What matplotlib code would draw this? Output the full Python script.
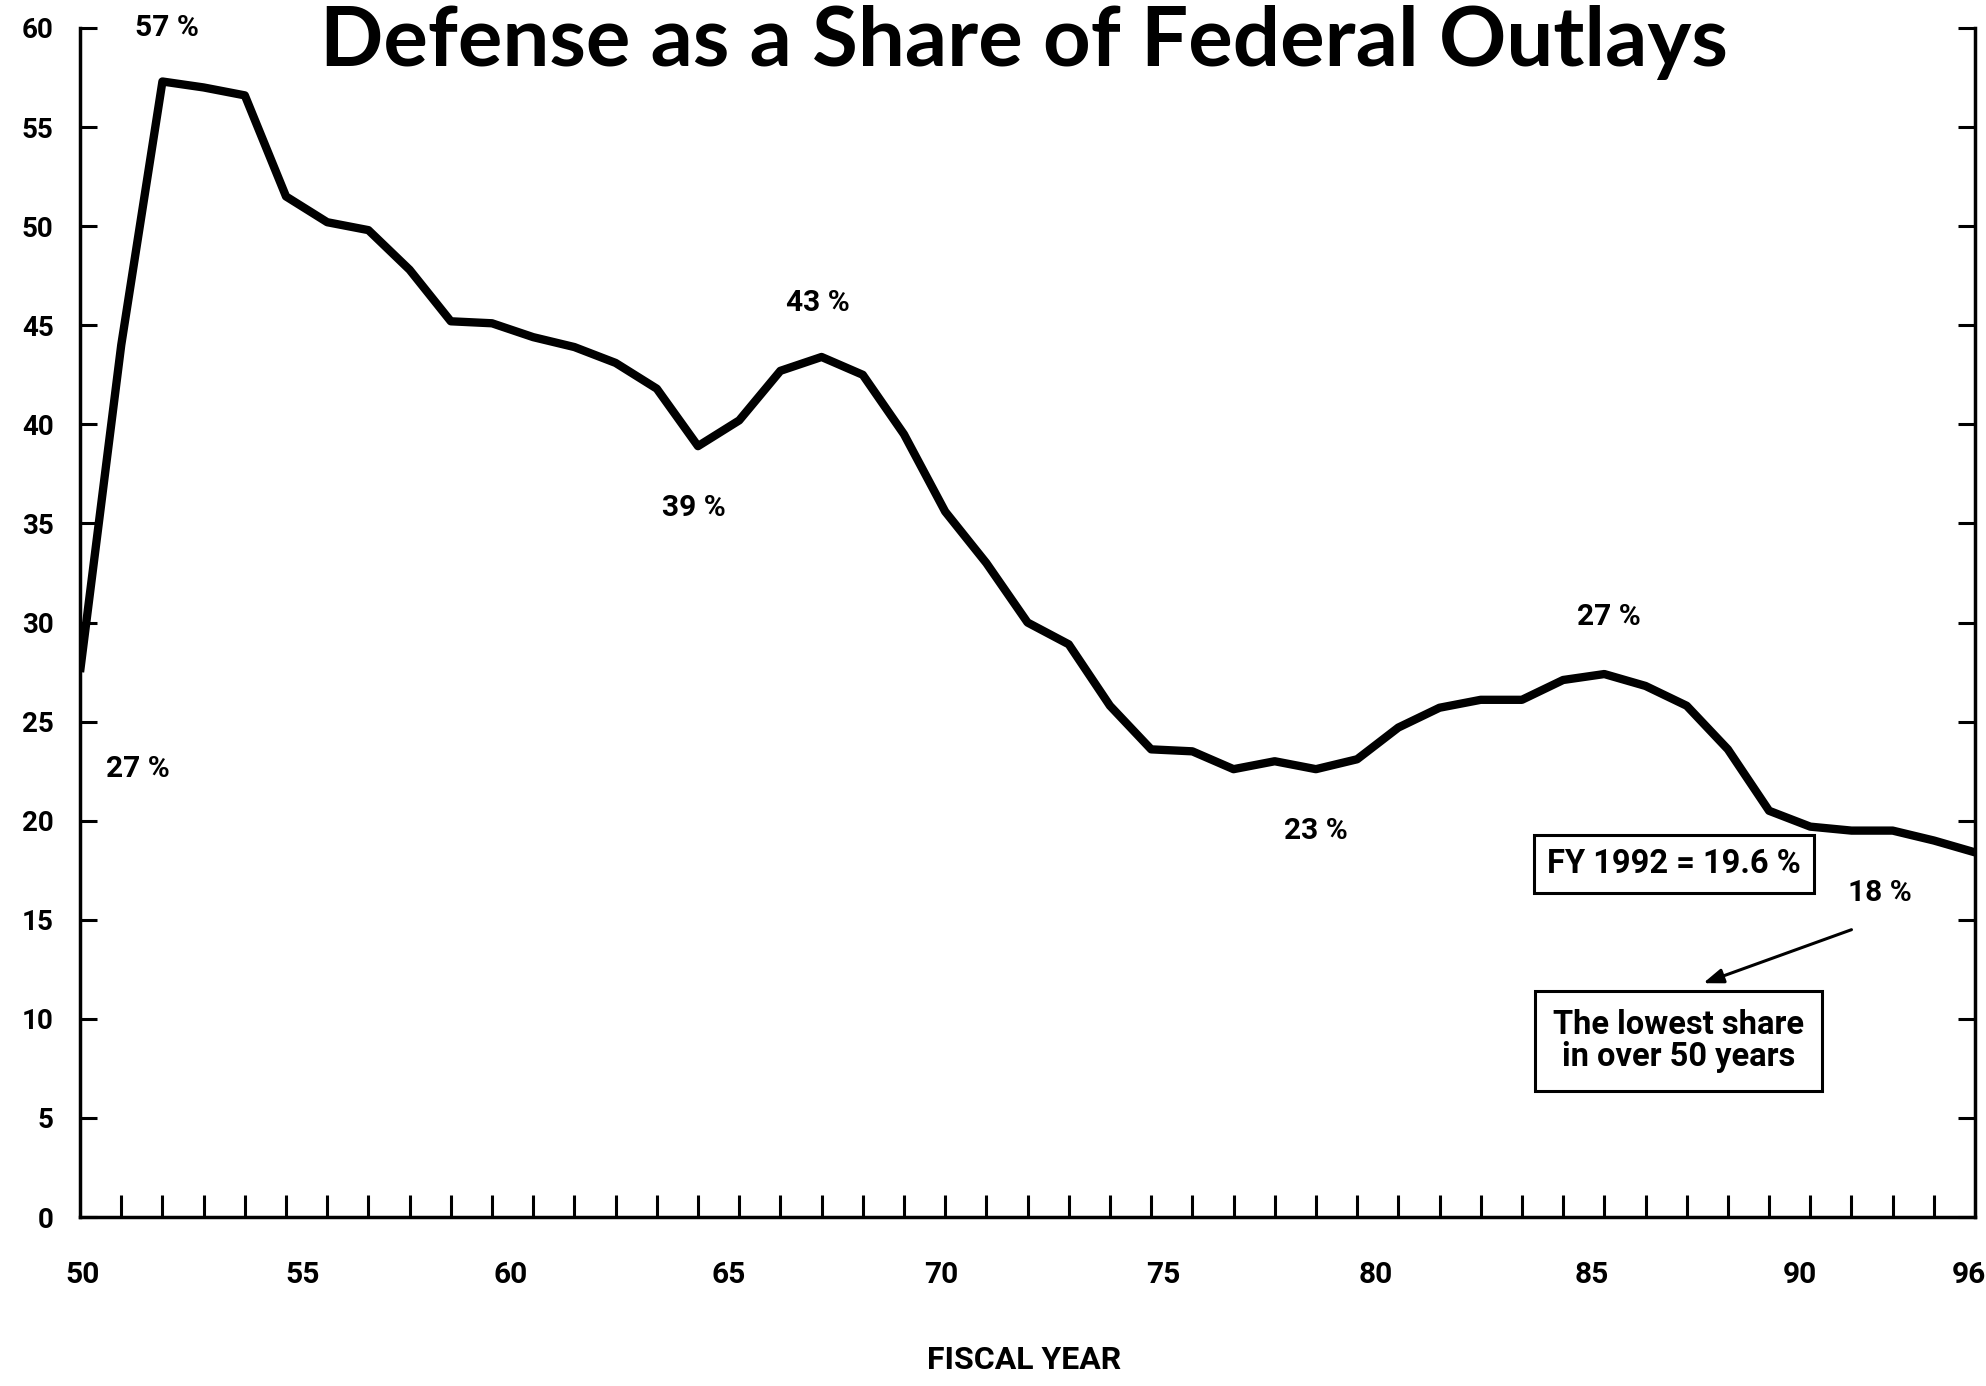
import matplotlib
matplotlib.use("Agg")
import matplotlib.pyplot as plt
from matplotlib.ticker import FixedLocator, NullFormatter

# Defense outlays as % of total federal outlays, FY1950-FY1996
years = list(range(1950, 1997))
share = [27.5, 44.0, 57.3, 57.0, 56.6, 51.5, 50.2, 49.8, 47.8, 45.2,
         45.1, 44.4, 43.9, 43.1, 41.8, 38.9, 40.2, 42.7, 43.4, 42.5,
         39.5, 35.6, 33.0, 30.0, 28.9, 25.8, 23.6, 23.5, 22.6, 23.0,
         22.6, 23.1, 24.7, 25.7, 26.1, 26.1, 27.1, 27.4, 26.8, 25.8,
         23.6, 20.5, 19.7, 19.5, 19.5, 19.0, 18.4]

# year labels under the axis (they sit slightly off the yearly ticks in the original)
xlabels = ["50", "55", "60", "65", "70", "75", "80", "85", "90", "96"]
xlabel_pos = [1950.05, 1955.4, 1960.45, 1965.75, 1970.9, 1976.3, 1981.45, 1986.7, 1991.75, 1995.85]
yticks = list(range(0, 61, 5))

# point labels: text, year, value
callouts = [("57 %", 1952.1, 60.0), ("27 %", 1951.4, 22.6), ("39 %", 1964.9, 35.8),
            ("43 %", 1967.9, 46.1), ("23 %", 1980.0, 19.5), ("27 %", 1987.1, 30.3),
            ("18 %", 1993.7, 16.35)]

FONT = "Roboto"

fig = plt.figure(figsize=(19.86, 13.86), dpi=100)
ax = fig.add_axes([0.0403, 0.1219, 0.9542, 0.8579])

ax.plot(years, share, color="black", lw=6.0, solid_joinstyle="round", solid_capstyle="butt")

ax.set_xlim(1950, 1996)
ax.set_ylim(0, 60)

# spines: left, right, bottom only
ax.spines["top"].set_visible(False)
for s in ["left", "right", "bottom"]:
    ax.spines[s].set_linewidth(2.5)

# x axis: yearly ticks pointing up, labels placed separately
ax.xaxis.set_major_locator(FixedLocator(xlabel_pos))
ax.set_xticklabels(xlabels)
ax.xaxis.set_minor_locator(FixedLocator(years[1:-1]))
ax.xaxis.set_minor_formatter(NullFormatter())
ax.tick_params(axis="x", which="major", length=0, pad=32, labelsize=21.5)
ax.tick_params(axis="x", which="minor", direction="in", length=16, width=2.2)

# y axis: ticks inward on both sides
ax.set_yticks(yticks)
ax.tick_params(axis="y", direction="in", length=12, width=2.2, right=True,
               labelright=False, pad=19, labelsize=20)

for lab in ax.get_xticklabels() + ax.get_yticklabels():
    lab.set_fontfamily(FONT)
    lab.set_fontweight("bold")

ax.set_xlabel("FISCAL YEAR", fontsize=23, fontweight="bold", family=FONT)
ax.xaxis.label.set_va("center")
ax.xaxis.set_label_coords(0.498, -0.1203)

for txt, x, y in callouts:
    ax.text(x, y, txt, ha="center", va="center", fontsize=21.5, fontweight="bold", family=FONT)

ax.text(1988.7, 17.8, "FY 1992 = 19.6 %", ha="center", va="center", fontsize=23.5,
        fontweight="bold", family=FONT,
        bbox=dict(boxstyle="square,pad=0.4", fc="white", ec="black", lw=2.2))
ax.text(1988.8, 8.9, "The lowest share\nin over 50 years", ha="center", va="center",
        fontsize=23.5, fontweight="bold", family=FONT, linespacing=1.0,
        bbox=dict(boxstyle="square,pad=0.55", fc="white", ec="black", lw=2.2))
ax.annotate("", xy=(1989.4, 11.8), xytext=(1993.0, 14.5),
            arrowprops=dict(arrowstyle="-|>,head_length=0.6,head_width=0.22", lw=2.2,
                            color="black", shrinkA=0, shrinkB=0, mutation_scale=20))

fig.text(0.5156, 1 - 66 / 1386, "Defense as a Share of Federal Outlays", ha="center",
         va="baseline", fontsize=60, fontweight="bold", family="Lato")

fig.savefig("out.png", dpi=100)
